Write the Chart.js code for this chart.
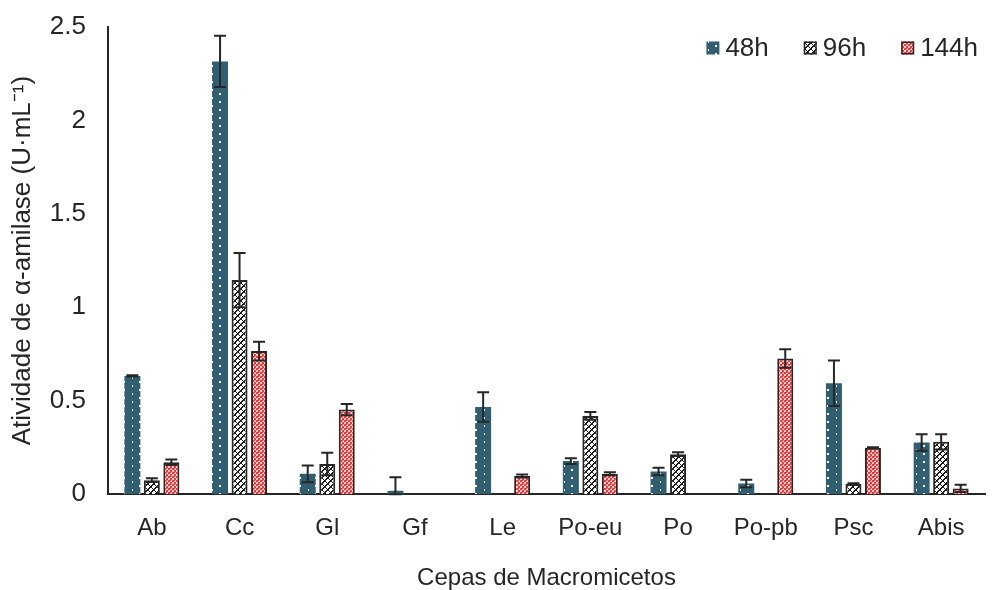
<!DOCTYPE html>
<html>
<head>
<meta charset="utf-8">
<script src="https://cdn.jsdelivr.net/npm/chart.js@4.4.1/dist/chart.umd.min.js"></script>
<style>
  html, body { margin: 0; padding: 0; background: #ffffff; }
  #wrap { width: 995px; height: 590px; }
</style>
</head>
<body>
<div id="wrap"><canvas id="chart" width="995" height="590"></canvas></div>
<script>
// Strains (x categories)
const strains = ['Ab', 'Cc', 'Gl', 'Gf', 'Le', 'Po-eu', 'Po', 'Po-pb', 'Psc', 'Abis'];
const seriesNames = ['48h', '96h', '144h'];

// Mean α-amylase activity (U·mL⁻¹) per incubation time
const act48 = [0.633, 2.316, 0.109, 0.018, 0.467, 0.177, 0.121, 0.057, 0.594, 0.277];
const act96 = [0.075, 1.146, 0.162, 0, 0, 0.419, 0.214, 0, 0.055, 0.280];
const act144 = [0.171, 0.766, 0.453, 0, 0.098, 0.110, 0, 0.726, 0.248, 0.031];

// Standard deviations
const sd48 = [0.003, 0.137, 0.045, 0.073, 0.079, 0.016, 0.020, 0.020, 0.122, 0.044];
const sd96 = [0.010, 0.145, 0.060, 0, 0, 0.021, 0.010, 0, 0.003, 0.041];
const sd144 = [0.015, 0.050, 0.030, 0, 0.008, 0.008, 0, 0.050, 0.003, 0.019];

const yTicks = [0, 0.5, 1, 1.5, 2, 2.5];

// Fill patterns for the three series
function makePattern(w, h, draw) {
  const c = document.createElement('canvas');
  c.width = w; c.height = h;
  const g = c.getContext('2d');
  draw(g);
  return g.createPattern(c, 'repeat');
}
const ctx = document.getElementById('chart').getContext('2d');

const pat48 = makePattern(16, 8, g => {
  g.fillStyle = '#2f5f70';
  g.fillRect(0, 0, 16, 8);
  g.fillStyle = '#ffffff';
  g.fillRect(4, 1, 1, 2);
  g.fillRect(11, 5, 2, 2);
});
const pat96 = makePattern(6, 6, g => {
  g.fillStyle = '#ffffff';
  g.fillRect(0, 0, 6, 6);
  g.fillStyle = '#1c1c1c';
  for (let x = 0; x < 6; x++) {
    for (let y = 0; y < 6; y++) {
      if ((x + y) % 6 === 0 || (x - y + 6) % 6 === 0 || (x + y) % 6 === 1) g.fillRect(x, y, 1, 1);
    }
  }
});
const pat144 = makePattern(4, 4, g => {
  g.fillStyle = '#ffd6d6';
  g.fillRect(0, 0, 4, 4);
  g.fillStyle = '#ff3333';
  g.fillRect(0, 0, 2, 2);
  g.fillRect(2, 2, 2, 2);
  g.fillRect(2, 0, 1, 1);
});

const errs = [sd48, sd96, sd144];

// Draws symmetric error bars using the y scale
const errorBars = {
  id: 'errorBars',
  afterDatasetsDraw(chart) {
    const g = chart.ctx;
    const ys = chart.scales.y;
    g.save();
    g.strokeStyle = '#262626';
    g.lineWidth = 2;
    chart.data.datasets.forEach((ds, di) => {
      const meta = chart.getDatasetMeta(di);
      meta.data.forEach((bar, i) => {
        const v = ds.data[i];
        const e = errs[di][i];
        if (!e) return;
        const top = ys.getPixelForValue(v + e);
        const bot = ys.getPixelForValue(Math.max(0, v - e));
        g.beginPath();
        g.moveTo(bar.x, top); g.lineTo(bar.x, bot);
        g.moveTo(bar.x - 6, top); g.lineTo(bar.x + 6, top);
        g.moveTo(bar.x - 6, bot); g.lineTo(bar.x + 6, bot);
        g.stroke();
      });
    });
    g.restore();
  }
};

const FAMILY = '"Liberation Sans", Arial, sans-serif';
const font = { family: FAMILY, size: 24 };
const yFont = { family: FAMILY, size: 26 };
const titleFont = { family: FAMILY, size: 24, lineHeight: 1.0 };
const yTitleFont = { family: FAMILY, size: 26, lineHeight: 1.0 };

// Legend drawn in the upper right corner of the plot area
const cornerLegend = {
  id: 'cornerLegend',
  afterDraw(chart) {
    const g = chart.ctx;
    const area = chart.chartArea;
    g.save();
    g.font = '26px ' + FAMILY;
    g.textBaseline = 'middle';
    const cy = area.top + 21;
    let right = area.right - 7;
    for (let di = chart.data.datasets.length - 1; di >= 0; di--) {
      const ds = chart.data.datasets[di];
      const w = g.measureText(ds.label).width;
      const tx = right - w;
      g.fillStyle = '#262626';
      g.fillText(ds.label, tx, cy + 1);
      const bx = tx - 19;
      g.fillStyle = ds.backgroundColor;
      g.fillRect(bx, cy - 6.5, 13, 13);
      if (ds.borderWidth) {
        g.strokeStyle = '#262626';
        g.lineWidth = 1.5;
        g.strokeRect(bx + 0.75, cy - 5.75, 11.5, 11.5);
      }
      right = bx - 35;
    }
    g.restore();
  }
};

new Chart(ctx, {
  type: 'bar',
  data: {
    labels: strains,
    datasets: [
      { label: seriesNames[0], data: act48, backgroundColor: pat48, borderWidth: 0 },
      { label: seriesNames[1], data: act96, backgroundColor: pat96, borderColor: '#262626', borderWidth: 2 },
      { label: seriesNames[2], data: act144, backgroundColor: pat144, borderColor: '#262626', borderWidth: 2 }
    ]
  },
  options: {
    responsive: false,
    animation: false,
    devicePixelRatio: 1,
    layout: { padding: { top: 0, right: 10, left: 6, bottom: 0 } },
    datasets: { bar: { categoryPercentage: 0.667, barPercentage: 0.82 } },
    plugins: {
      tooltip: { enabled: false },
      legend: { display: false }
    },
    scales: {
      x: {
        grid: { display: false, drawTicks: false },
        border: { display: true, color: '#262626', width: 2 },
        ticks: { font: font, color: '#262626', padding: 20 },
        title: { display: true, text: 'Cepas de Macromicetos', font: titleFont, color: '#262626', padding: { top: 3, bottom: 0 } }
      },
      y: {
        min: 0,
        max: 2.5,
        afterBuildTicks(axis) { axis.ticks = yTicks.map(v => ({ value: v })); },
        afterFit(axis) { axis.width = 102; axis.paddingTop = 27; },
        grid: { display: false, drawTicks: false },
        border: { display: true, color: '#262626', width: 2 },
        ticks: { font: yFont, color: '#262626', padding: 22, callback: v => String(v) },
        title: { display: true, text: 'Atividade de α-amilase (U·mL⁻¹)', font: yTitleFont, color: '#262626', padding: { top: 4, bottom: 10 } }
      }
    }
  },
  plugins: [errorBars, cornerLegend]
});
</script>
</body>
</html>
